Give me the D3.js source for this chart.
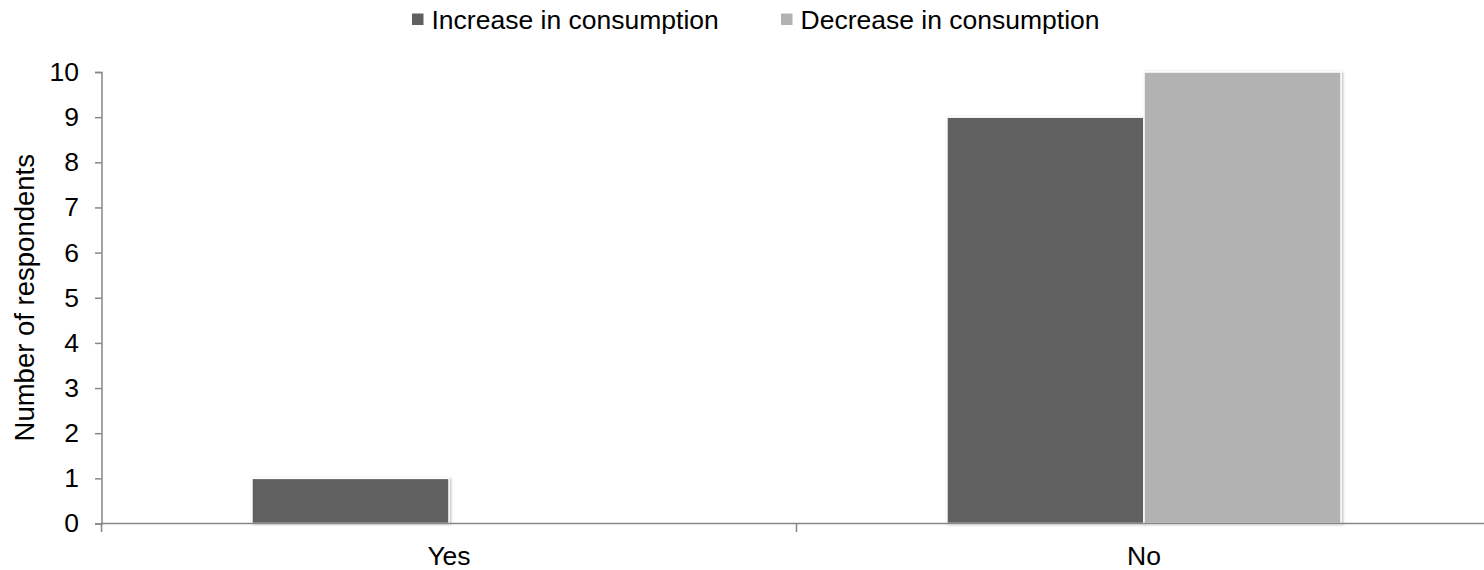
<!DOCTYPE html>
<html>
<head>
<meta charset="utf-8">
<script src="https://cdn.jsdelivr.net/npm/d3@7"></script>
<style>
  html, body { margin: 0; padding: 0; background: #fff; }
  svg { display: block; font-family: "Liberation Sans", Arial, sans-serif; }
</style>
</head>
<body>
<script>
// Survey responses: number of respondents per answer
const categories = ["Yes", "No"];
const seriesNames = ["Increase in consumption", "Decrease in consumption"];
const increaseValues = [1, 9];
const decreaseValues = [0, 10];
const yTicks = [0, 1, 2, 3, 4, 5, 6, 7, 8, 9, 10];
const seriesColors = ["#606060", "#b2b2b2"];

const W = 1484, H = 570;
const margin = { left: 101.5, top: 72, bottom: 46.5 };
const plotRight = 1491.5;
const plotBottom = H - margin.bottom;
const fontSize = 26.5;

const svg = d3.select("body").append("svg")
  .attr("width", W).attr("height", H);

const defs = svg.append("defs");
const shadow = defs.append("filter").attr("id", "barShadow")
  .attr("x", "-5%").attr("y", "-5%").attr("width", "110%").attr("height", "110%");
shadow.append("feDropShadow")
  .attr("dx", 1.2).attr("dy", 0.6).attr("stdDeviation", 1.2)
  .attr("flood-color", "#000").attr("flood-opacity", 0.28);

const x0 = d3.scaleBand().domain(categories)
  .range([margin.left, plotRight]).paddingInner(0).paddingOuter(0);
const x1 = d3.scaleBand().domain(seriesNames)
  .range([0, x0.bandwidth()]).paddingOuter(0.7636).paddingInner(0);
const y = d3.scaleLinear().domain([0, 10]).range([plotBottom, margin.top]);

const rows = categories.map((c, i) => ({
  category: c,
  values: [
    { series: seriesNames[0], value: increaseValues[i] },
    { series: seriesNames[1], value: decreaseValues[i] }
  ]
}));

// Bars
const groups = svg.append("g").selectAll("g").data(rows).join("g")
  .attr("transform", d => `translate(${x0(d.category)},0)`);
groups.selectAll("rect")
  .data(d => d.values.filter(v => v.value > 0))
  .join("rect")
  .attr("x", d => x1(d.series))
  .attr("y", d => y(d.value))
  .attr("width", x1.bandwidth())
  .attr("height", d => y(0) - y(d.value))
  .attr("fill", d => seriesColors[seriesNames.indexOf(d.series)])
  .attr("stroke", "#fff")
  .attr("stroke-width", 1.5)
  .attr("filter", "url(#barShadow)");

// Y axis
const yAxis = d3.axisLeft(y).tickValues(yTicks).tickSize(6.5).tickPadding(16)
  .tickFormat(d3.format("d"));
const gy = svg.append("g").attr("transform", `translate(${margin.left},0)`).call(yAxis);
gy.select(".domain").attr("stroke", "#868686").attr("stroke-width", 1.5);
gy.selectAll(".tick line").attr("stroke", "#868686").attr("stroke-width", 1.5);
gy.selectAll(".tick text").attr("font-size", fontSize).attr("fill", "#000")
  .attr("font-family", "Liberation Sans, Arial, sans-serif");

// X axis: baseline with ticks at category boundaries
const gx = svg.append("g");
gx.append("line")
  .attr("x1", margin.left).attr("x2", plotRight)
  .attr("y1", y(0)).attr("y2", y(0))
  .attr("stroke", "#868686").attr("stroke-width", 1.5);
const boundaries = categories.map(c => x0(c)).concat([plotRight]);
gx.selectAll("line.tick").data(boundaries).join("line").attr("class", "tick")
  .attr("x1", d => d).attr("x2", d => d)
  .attr("y1", y(0)).attr("y2", y(0) + 8.5)
  .attr("stroke", "#868686").attr("stroke-width", 1.5);
gx.selectAll("text").data(categories).join("text")
  .attr("x", d => x0(d) + x0.bandwidth() / 2)
  .attr("y", 565)
  .attr("text-anchor", "middle")
  .attr("font-size", fontSize)
  .attr("fill", "#000")
  .text(d => d);

// Y axis title
svg.append("text")
  .attr("transform", `translate(33.5,${(y(0) + y(10)) / 2}) rotate(-90)`)
  .attr("text-anchor", "middle")
  .attr("font-size", 27.5)
  .attr("fill", "#000")
  .text("Number of respondents");

// Legend
const legendItems = [
  { name: seriesNames[0], color: seriesColors[0], sx: 412 },
  { name: seriesNames[1], color: seriesColors[1], sx: 781 }
];
const legend = svg.append("g").selectAll("g").data(legendItems).join("g")
  .attr("transform", d => `translate(${d.sx},0)`);
legend.append("rect")
  .attr("x", 0).attr("y", 13.5).attr("width", 11.5).attr("height", 11.5)
  .attr("fill", d => d.color);
legend.append("text")
  .attr("x", 19.5).attr("y", 28.5)
  .attr("font-size", fontSize).attr("fill", "#000")
  .text(d => d.name);
</script>
</body>
</html>
